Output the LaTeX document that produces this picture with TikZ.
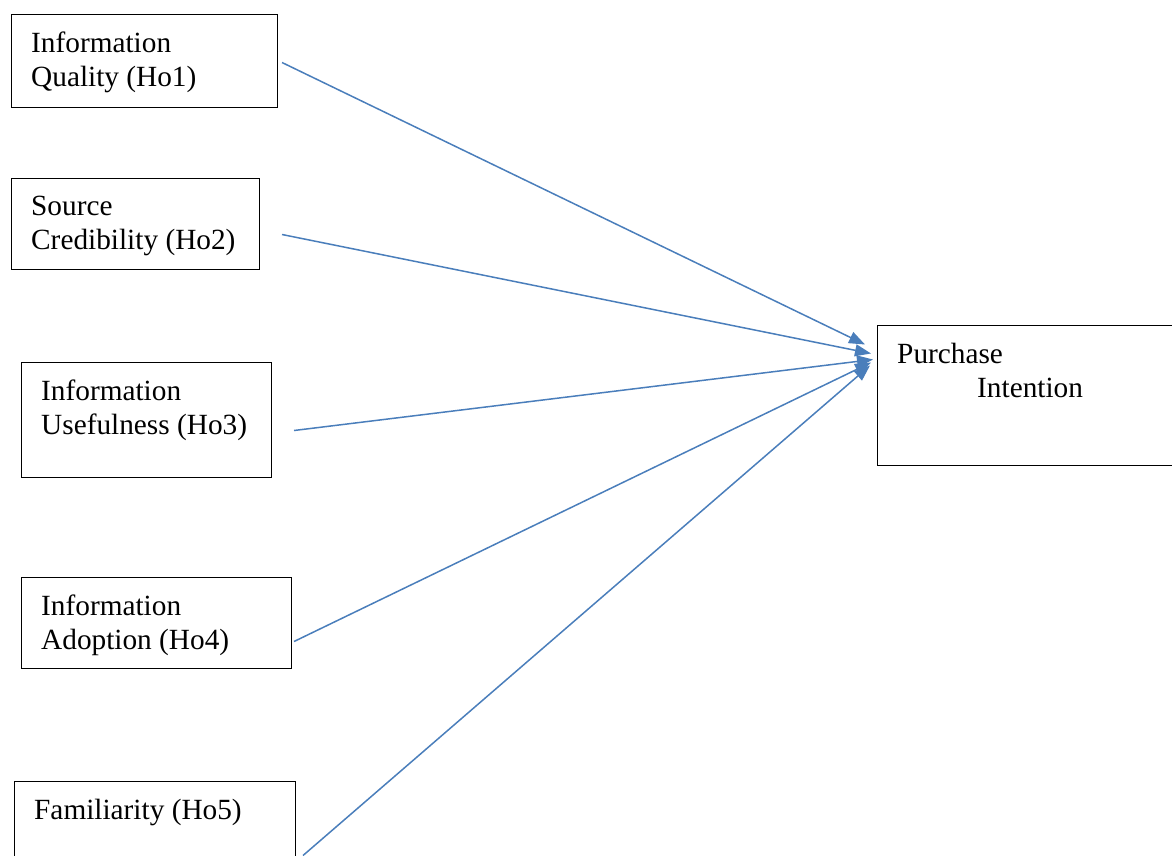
\documentclass[tikz,border=0pt]{standalone}
\usepackage{fontspec}
\setmainfont{Liberation Serif}
\usetikzlibrary{arrows.meta,positioning}
\definecolor{pathblue}{RGB}{74,126,187}

\tikzset{
  varbox/.style={draw=black,line width=1pt,anchor=north west,inner sep=0pt},
  vartext/.style={align=left,inner xsep=20pt,inner ysep=18pt,font=\fontsize{29.3}{34}\selectfont},
  path/.style={draw=pathblue,line width=1.5pt,-{Triangle[length=16pt,width=12pt]}}
}

\begin{document}
\begin{tikzpicture}[x=1pt,y=-1pt]
\clip (0,0) rectangle (1172,855);
% predictors
\node[varbox,minimum width=266pt,minimum height=93pt,
  label={[vartext,anchor=north west]north west:Information\\Quality (Ho1)}] (iq) at (11,14) {};
\node[varbox,minimum width=248pt,minimum height=91pt,
  label={[vartext,anchor=north west]north west:Source\\Credibility (Ho2)}] (sc) at (11,178) {};
\node[varbox,minimum width=250pt,minimum height=115pt,
  label={[vartext,anchor=north west]north west:Information\\Usefulness (Ho3)}] (iu) at (21,362) {};
\node[varbox,minimum width=270pt,minimum height=91pt,
  label={[vartext,anchor=north west]north west:Information\\Adoption (Ho4)}] (ia) at (21,577) {};
\node[varbox,minimum width=281pt,minimum height=120pt,
  label={[vartext,anchor=north west]north west:Familiarity (Ho5)}] (fa) at (14,781) {};
% outcome
\node[varbox,minimum width=320pt,minimum height=140pt,
  label={[vartext,anchor=north west]north west:Purchase\\\hspace*{80pt}Intention}] (pi) at (877,325) {};
% paths
\draw[path] ([xshift=4pt,yshift=-1.5pt]iq.east) -- ([xshift=-12pt,yshift=51pt]pi.west);
\draw[path] ([xshift=22pt,yshift=-10.5pt]sc.east) -- ([xshift=-6pt,yshift=42pt]pi.west);
\draw[path] ([xshift=22pt,yshift=-10.5pt]iu.east) -- ([xshift=-4pt,yshift=36pt]pi.west);
\draw[path] ([xshift=2pt,yshift=-18.5pt]ia.east) -- ([xshift=-6pt,yshift=33pt]pi.west);
\draw[path] ([xshift=7pt,yshift=-14pt]fa.east) -- ([xshift=-7pt,yshift=30pt]pi.west);
\end{tikzpicture}
\end{document}
